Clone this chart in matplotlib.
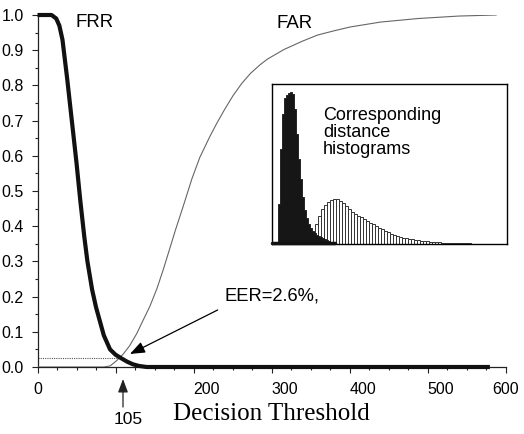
import matplotlib
matplotlib.use("Agg")
import matplotlib.pyplot as plt

# ---------------- data ----------------
frr_x = [0, 10, 18, 24, 28, 32, 38, 44, 50, 55, 60, 64, 70, 75, 80, 85, 93, 100, 108, 115, 122, 130, 140, 580]
frr_y = [1.0, 1.0, 1.0, 0.99, 0.97, 0.93, 0.82, 0.70, 0.58, 0.47, 0.37, 0.30, 0.22, 0.17, 0.13, 0.09, 0.05, 0.035, 0.024, 0.015, 0.008, 0.003, 0.0, 0.0]

far_x = [0, 85, 93, 101, 110, 118, 127, 135, 144, 153, 161, 167, 177, 187, 198, 208, 221, 230, 240, 251, 262, 273, 285, 295, 316, 340, 359, 380, 401, 440, 488, 540, 588]
far_y = [0.0, 0.0, 0.003, 0.017, 0.037, 0.06, 0.094, 0.131, 0.172, 0.222, 0.275, 0.318, 0.39, 0.458, 0.535, 0.595, 0.655, 0.693, 0.732, 0.772, 0.806, 0.834, 0.858, 0.875, 0.902, 0.926, 0.943, 0.955, 0.966, 0.98, 0.99, 0.997, 1.0]

eer_threshold = 105
eer_value = 0.026

x_ticks = [0, 100, 200, 300, 400, 500, 600]
x_tick_labels = ["0", "", "200", "300", "400", "500", "600"]
y_ticks = [0.0, 0.1, 0.2, 0.3, 0.4, 0.5, 0.6, 0.7, 0.8, 0.9, 1.0]

# inset histograms (bin centres and heights)
gen_x = [3, 5, 7, 9, 11, 13, 15, 17, 19, 21, 23, 25, 27, 29, 31, 33, 35, 37, 39, 41, 43, 45, 47, 49, 51, 53, 55, 57, 59, 61, 63]
gen_h = [0, 2, 40, 95, 130, 146, 149, 151, 152, 150, 135, 110, 85, 65, 47, 34, 26, 20, 16, 13, 11, 9, 8, 7, 6, 5, 4, 3, 2.5, 2, 1]

imp_x = [41.5, 44.5, 47.5, 50.5, 53.5, 56.5, 59.5, 62.5, 65.5, 68.5, 71.5, 74.5, 77.5, 80.5, 83.5, 86.5,
         89.5, 92.5, 95.5, 98.5, 101.5, 104.5, 107.5, 110.5, 113.5, 116.5, 119.5, 122.5, 125.5, 128.5,
         131.5, 134.5, 137.5, 140.5, 143.5, 146.5, 149.5, 152.5, 155.5, 158.5, 161.5, 164.5, 167.5,
         170.5, 173.5, 176.5, 179.5, 182.5, 185.5, 188.5, 191.5, 194.5, 197.5, 200.5, 203.5, 206.5, 209.5]
imp_h = [12, 20, 28, 35, 39, 42, 44, 45, 45, 43, 41, 38, 35, 32, 30, 28,
         27, 25, 23, 21, 20, 18, 16, 15, 13, 12, 10, 9, 8, 7,
         6, 6, 5, 5, 4, 4, 3, 3, 3, 2, 2, 2, 2,
         1.5, 1.5, 1, 1, 1, 1, 0.8, 0.8, 0.6, 0.6, 0.5, 0.5, 0.4, 0.3]

# ---------------- fonts ----------------
narrow = ["Liberation Sans Narrow", "Arial Narrow", "Liberation Sans", "DejaVu Sans"]
sans = ["Liberation Sans", "Arial", "DejaVu Sans"]
serif = ["Liberation Serif", "Times New Roman", "DejaVu Serif"]

W, H = 524, 434
fig = plt.figure(figsize=(W / 100, H / 100), dpi=100)
ax = fig.add_axes([37.5 / W, 1 - 367 / H, 468 / W, 352 / H])

ax.plot(far_x, far_y, color="#666666", lw=0.8, zorder=3)
ax.plot(frr_x, frr_y, color="#111111", lw=3.0, solid_joinstyle="round",
        solid_capstyle="butt", clip_on=False, zorder=4)
ax.plot([0, eer_threshold], [eer_value, eer_value], color="#555555", lw=0.8,
        linestyle=(0, (1, 1)), zorder=2)

ax.set_xlim(0, 600)
ax.set_ylim(0, 1.0)
for s in ["top", "right"]:
    ax.spines[s].set_visible(False)
for s in ["left", "bottom"]:
    ax.spines[s].set_color("#222222")
    ax.spines[s].set_linewidth(0.9)

ax.set_xticks(x_ticks)
ax.set_xticks(range(0, 601, 25), minor=True)
ax.set_yticks(y_ticks)
ax.set_yticks([0.05 + 0.1 * i for i in range(10)], minor=True)
ax.set_yticklabels([f"{v:.1f}" for v in y_ticks])
ax.set_xticklabels(x_tick_labels)
ax.tick_params(axis="both", which="major", length=4.5, width=0.8, color="#222222",
               labelsize=11.5, direction="out")
ax.tick_params(axis="both", which="minor", length=2.5, width=0.8, color="#222222", direction="out")
ax.tick_params(axis="x", which="major", pad=6.5)
ax.tick_params(axis="y", which="major", pad=5.5)
xlabs = ax.get_xticklabels()
for i, lab in enumerate(xlabs):
    lab.set_fontfamily(narrow)
    if 0 < i < len(xlabs) - 1:
        lab.set_ha("left")
for lab in ax.get_yticklabels():
    lab.set_fontfamily(narrow)

ax.text(49, 0.979, "FRR", fontsize=13.4, family=sans, va="center", ha="left")
ax.text(307, 0.977, "FAR", fontsize=13.4, family=sans, va="center", ha="left")
ax.text(240, 0.2026, "EER=2.6%,", fontsize=13.2, family=sans, va="center", ha="left")
ax.annotate("", xy=(118.6, 0.037), xytext=(231, 0.162), xycoords="data",
            arrowprops=dict(arrowstyle="-|>,head_length=0.9,head_width=0.35",
                            color="black", lw=0.9, shrinkA=0, shrinkB=0))

# vertical arrow and labels below axis
ax.annotate("", xy=(123 / W, 1 - 379 / H), xytext=(123 / W, 1 - 407 / H),
            xycoords="figure fraction", textcoords="figure fraction",
            arrowprops=dict(arrowstyle="-|>,head_length=0.8,head_width=0.3",
                            color="#222222", lw=0.9, shrinkA=0, shrinkB=0),
            annotation_clip=False)
fig.text(128.5 / W, 1 - 424 / H, str(eer_threshold), fontsize=12.5, family=sans,
         ha="center", va="baseline")
fig.text(271.5 / W, 1 - 420 / H, "Decision Threshold", fontsize=18, family=serif,
         ha="center", va="baseline")

# ---------------- inset ----------------
ins = fig.add_axes([272 / W, 1 - 244 / H, 235 / W, 160 / H])
ins.set_xlim(0, 235)
ins.set_ylim(0, 160)
ins.set_xticks([])
ins.set_yticks([])
for s in ins.spines.values():
    s.set_color("black")
    s.set_linewidth(1.0)
ins.bar(imp_x, imp_h, width=3, color="white", edgecolor="#333333", linewidth=0.7, zorder=2)
ins.fill_between(gen_x, gen_h, 0, step="mid", color="#161616", linewidth=0.6,
                 edgecolor="#161616", zorder=3)
ins.plot([gen_x[0] - 3, gen_x[-1]], [0.8, 0.8], color="#111111", lw=2.5, solid_capstyle="round",
         clip_on=False, zorder=4)
ins.text(51, 137, "Corresponding\ndistance\nhistograms", fontsize=13, family=sans,
         ha="left", va="top", linespacing=1.0)

fig.savefig("out.png", dpi=100)
